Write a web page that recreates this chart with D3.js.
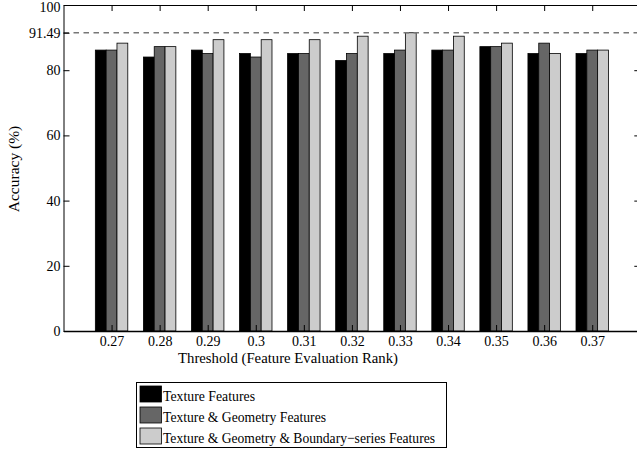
<!DOCTYPE html>
<html>
<head>
<meta charset="utf-8">
<script src="https://cdn.jsdelivr.net/npm/d3@7"></script>
<style>
  body { margin: 0; background: #fff; }
  text { font-family: "Liberation Serif", "Times New Roman", serif; fill: #000; }
</style>
</head>
<body>
<script>
// Data
const thresholds = ["0.27", "0.28", "0.29", "0.3", "0.31", "0.32", "0.33", "0.34", "0.35", "0.36", "0.37"];
const texture = [86.17, 84.04, 86.17, 85.11, 85.11, 82.98, 85.11, 86.17, 87.23, 85.11, 85.11];
const textureGeometry = [86.17, 87.23, 85.11, 84.04, 85.11, 85.11, 86.17, 86.17, 87.23, 88.30, 86.17];
const textureGeometryBoundary = [88.30, 87.23, 89.36, 89.36, 89.36, 90.43, 91.49, 90.43, 88.30, 85.11, 86.17];
const seriesNames = ["Texture Features", "Texture & Geometry Features", "Texture & Geometry & Boundary\u2212series Features"];
const yTicks = [0, 20, 40, 60, 80, 91.49, 100];
const bestAccuracy = 91.49;

const series = [texture, textureGeometry, textureGeometryBoundary];
const colors = ["#000000", "#666666", "#cccccc"];
// the original text is a bit narrower than Liberation Serif, squeeze to match
const legendWidths = [92, 163, 272];

const width = 637, height = 451;
const margin = { top: 5, left: 63.5 };
const plotRight = 640.3, plotBottom = 331;

const svg = d3.select("body").append("svg")
    .attr("width", width)
    .attr("height", height);

// x is a linear scale like matlab's bar(): categories at 1..11, limits 0..12
const x = d3.scaleLinear()
    .domain([0, thresholds.length + 1])
    .range([margin.left, plotRight]);

const y = d3.scaleLinear()
    .domain([0, 100])
    .range([plotBottom, margin.top]);

const barW = 0.225;

// Bars
series.forEach((values, s) => {
    svg.append("g")
        .selectAll("rect")
        .data(values)
        .enter().append("rect")
        .attr("x", (d, i) => x(i + 1 + (s - 1) * barW - barW / 2))
        .attr("y", d => y(d))
        .attr("width", x(barW) - x(0))
        .attr("height", d => y(0) - y(d))
        .attr("fill", colors[s])
        .attr("stroke", "#000")
        .attr("stroke-width", 0.8);
});

// Best accuracy reference line
svg.append("line")
    .attr("x1", x(0))
    .attr("x2", x(thresholds.length + 1))
    .attr("y1", y(bestAccuracy))
    .attr("y2", y(bestAccuracy))
    .attr("stroke", "#777")
    .attr("stroke-width", 1.6)
    .attr("stroke-dasharray", "5.5,4.5");

const catTicks = thresholds.map((t, i) => i + 1);

// Bottom axis
svg.append("g")
    .attr("transform", "translate(0," + plotBottom + ")")
    .call(d3.axisBottom(x).tickValues(catTicks).tickSize(-6).tickSizeOuter(0).tickPadding(5)
        .tickFormat((d, i) => thresholds[i]))
    .call(g => g.select(".domain").attr("stroke-width", 1.4));

// Top axis
svg.append("g")
    .attr("transform", "translate(0," + margin.top + ")")
    .call(d3.axisTop(x).tickValues(catTicks).tickSize(-6).tickSizeOuter(0).tickFormat(""));

// Left axis
svg.append("g")
    .attr("transform", "translate(" + margin.left + ",0)")
    .call(d3.axisLeft(y).tickValues(yTicks).tickSize(-6).tickSizeOuter(0).tickPadding(3)
        .tickFormat(d => d))
    .call(g => g.selectAll(".tick text").filter(d => d === 100).attr("dy", "0.45em"));

// Right axis
svg.append("g")
    .attr("transform", "translate(" + plotRight + ",0)")
    .call(d3.axisRight(y).tickValues([0, 20, 40, 60, 80, 100]).tickSize(-6).tickSizeOuter(0).tickFormat(""));

svg.selectAll(".tick text")
    .style("font-family", "'Liberation Serif', serif")
    .style("font-size", "14px");
svg.selectAll(".domain, .tick line").attr("stroke", "#000");

// Axis labels
svg.append("text")
    .attr("x", 288)
    .attr("y", 362.5)
    .attr("text-anchor", "middle")
    .attr("textLength", 220)
    .attr("lengthAdjust", "spacingAndGlyphs")
    .style("font-size", "15px")
    .text("Threshold (Feature Evaluation Rank)");

svg.append("text")
    .attr("transform", "rotate(-90)")
    .attr("x", -169)
    .attr("y", 19)
    .attr("text-anchor", "middle")
    .style("font-size", "15.5px")
    .text("Accuracy (%)");

// Legend
const legend = svg.append("g")
    .attr("transform", "translate(136.5,382.5)");

legend.append("rect")
    .attr("width", 310)
    .attr("height", 65)
    .attr("fill", "#fff")
    .attr("stroke", "#000")
    .attr("stroke-width", 1);

seriesNames.forEach((name, i) => {
    legend.append("rect")
        .attr("x", 3.5)
        .attr("y", 3.5 + i * 21)
        .attr("width", 21.5)
        .attr("height", 16)
        .attr("fill", colors[i])
        .attr("stroke", "#000")
        .attr("stroke-width", 0.8);
    legend.append("text")
        .attr("x", 26.5)
        .attr("y", 18 + i * 21)
        .attr("textLength", legendWidths[i])
        .attr("lengthAdjust", "spacingAndGlyphs")
        .style("font-size", "15px")
        .text(name);
});
</script>
</body>
</html>
